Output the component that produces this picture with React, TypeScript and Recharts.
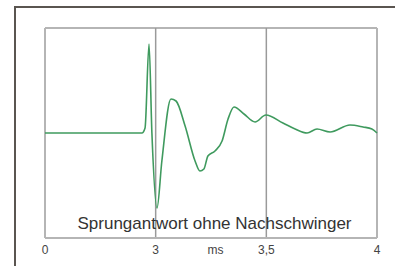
import { LineChart, Line, XAxis, YAxis, ReferenceLine } from 'recharts'

// time axis (ms) – left edge is labelled "0" in the original
const timeMs = [
  2.5, 2.938, 2.952, 2.97, 2.983, 3.006, 3.028, 3.069, 3.092, 3.133, 3.178, 3.2,
  3.218, 3.236, 3.268, 3.3, 3.327, 3.354, 3.399, 3.449, 3.498, 3.575, 3.63, 3.684,
  3.729, 3.788, 3.878, 3.937, 3.977, 4.0,
]
const response = [
  0, 0, 5, 89, 0, -75, -28, 34, 32, 7, -28, -38,
  -36, -23, -18, -8, 14, 26, 19, 11, 18, 10, 4, 0,
  4, 1, 8, 6, 4, 0,
]
const tickValues = [2.5, 3, 3.27, 3.5, 4]
const tickLabels = ['0', '3', 'ms', '3,5', '4']

const data = timeMs.map((t, i) => ({ t, v: response[i] }))

const font = '"Liberation Sans", Arial, sans-serif'

export default function App() {
  return (
    <div style={{ position: 'absolute', left: 0, top: 0, width: 395, height: 266, background: '#fff', overflow: 'hidden' }}>
      {/* outer frame */}
      <div
        style={{
          position: 'absolute', left: 14, top: 6, width: 420, height: 300,
          borderLeft: '2px solid #5a5550', borderTop: '2px solid #5a5550',
        }}
      />
      <LineChart
        width={395}
        height={266}
        data={data}
        margin={{ top: 28, right: 18, left: 45, bottom: 0 }}
        style={{ position: 'absolute', left: 0, top: 0 }}
      >
        <XAxis
          dataKey="t"
          type="number"
          domain={[2.5, 4]}
          ticks={tickValues}
          tickFormatter={(v: number) => tickLabels[tickValues.indexOf(v)] ?? ''}
          height={28}
          tickLine={false}
          axisLine={{ stroke: '#b5b5b5', strokeWidth: 2 }}
          tick={{ fill: '#444', fontSize: 12, fontFamily: font }}
          tickMargin={1}
          interval={0}
        />
        <YAxis hide type="number" domain={[-105, 105]} />
        {/* plot frame and grid */}
        <ReferenceLine y={105} stroke="#b5b5b5" strokeWidth={2} />
        <ReferenceLine x={2.5} stroke="#b5b5b5" strokeWidth={2} />
        <ReferenceLine x={4} stroke="#b5b5b5" strokeWidth={2} />
        <ReferenceLine x={3} stroke="#9a9a9a" strokeWidth={1.5} />
        <ReferenceLine x={3.5} stroke="#9a9a9a" strokeWidth={1.5} />
        <Line
          type="monotone"
          dataKey="v"
          stroke="#3f9a5e"
          strokeWidth={1.6}
          dot={false}
          isAnimationActive={false}
        />
      </LineChart>
      <div
        style={{
          position: 'absolute', left: 0, width: 429, top: 214, textAlign: 'center',
          fontFamily: font, fontSize: 17, color: '#333', lineHeight: '20px',
        }}
      >
        Sprungantwort ohne Nachschwinger
      </div>
    </div>
  )
}
